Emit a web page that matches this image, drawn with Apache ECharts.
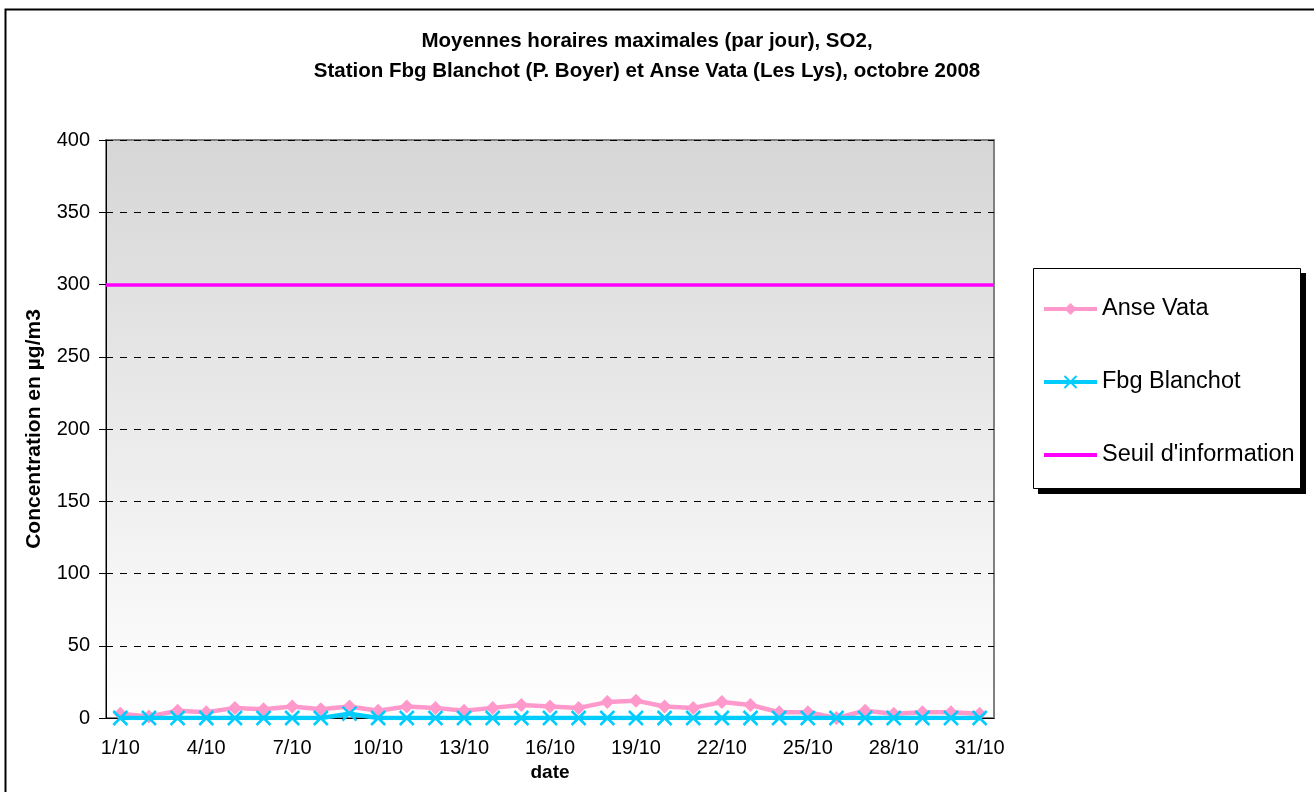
<!DOCTYPE html>
<html>
<head>
<meta charset="utf-8">
<script src="https://cdn.jsdelivr.net/npm/echarts@6/dist/echarts.min.js"></script>
<style>
  html, body { margin: 0; padding: 0; background: #fff; }
  #chart { width: 1314px; height: 792px; }
</style>
</head>
<body>
<div id="chart"></div>
<script>
// jours d'octobre 2008
const days = [];
for (let d = 1; d <= 31; d++) days.push(d + '/10');

// maxima horaires par jour (µg/m3)
const anseVata = [3, 1, 5, 4, 7, 6, 8, 6, 8, 5, 8, 7, 5, 7, 9, 8, 7, 11, 12, 8, 7, 11, 9, 4, 4, 0, 5, 3, 4, 4, 3];
const fbgBlanchot = [0, 0, 0, 0, 0, 0, 0, 0, 3, 0, 0, 0, 0, 0, 0, 0, 0, 0, 0, 0, 0, 0, 0, 0, 0, 0, 0, 0, 0, 0, 0];
const seuilInfo = 300;

const yMin = 0, yMax = 400, yStep = 50;

const chart = echarts.init(document.getElementById('chart'));

const crossPath = 'path://M0,0L10,10M10,0L0,10';

const option = {
  animation: false,
  backgroundColor: '#fff',
  textStyle: { fontFamily: 'Liberation Sans, Arial, sans-serif' },
  graphic: [
    {
      // cadre extérieur
      type: 'rect',
      left: 3, top: 7,
      shape: { width: 1400, height: 900 },
      style: { fill: 'none', stroke: '#000', lineWidth: 2 },
      silent: true
    },
    {
      // ombre de la légende
      type: 'rect',
      left: 1038, top: 273,
      shape: { width: 268, height: 221 },
      style: { fill: '#000' },
      silent: true, z: 1
    },
    {
      // cadre de la légende
      type: 'rect',
      left: 1033, top: 268,
      shape: { width: 267, height: 220 },
      style: { fill: '#fff', stroke: '#000', lineWidth: 1 },
      silent: true, z: 2
    }
  ],
  title: {
    text: 'Moyennes horaires maximales (par jour), SO2,\nStation Fbg Blanchot (P. Boyer) et Anse Vata (Les Lys), octobre 2008',
    left: 642,
    textAlign: 'center',
    top: 21,
    textStyle: {
      fontSize: 20.5, fontWeight: 'bold', color: '#000',
      lineHeight: 30, fontFamily: 'Liberation Sans, Arial, sans-serif'
    }
  },
  legend: {
    orient: 'vertical',
    left: 1033, top: 268,
    padding: [27, 8, 25, 9],
    itemGap: 45,
    itemWidth: 53, itemHeight: 15,
    z: 5,
    lineStyle: { width: 4 },
    textStyle: { fontSize: 23.5, color: '#000', lineHeight: 28 },
    data: [
      'Anse Vata',
      'Fbg Blanchot',
      { name: "Seuil d'information", itemStyle: { opacity: 0 } }
    ]
  },
  grid: {
    left: 106, right: 320, top: 140, bottom: 74,
    show: true,
    borderColor: '#808080', borderWidth: 2,
    backgroundColor: new echarts.graphic.LinearGradient(0, 0, 0, 1, [
      { offset: 0, color: '#d6d6d6' },
      { offset: 1, color: '#ffffff' }
    ])
  },
  xAxis: {
    type: 'category',
    data: days,
    boundaryGap: true,
    name: 'date',
    nameLocation: 'middle',
    nameGap: 39,
    nameTextStyle: { fontSize: 19, fontWeight: 'bold', color: '#000' },
    axisLine: { lineStyle: { color: '#000', width: 1 } },
    axisTick: { interval: 2, length: 6, lineStyle: { color: '#000' } },
    axisLabel: { interval: 2, fontSize: 20, color: '#000', margin: 20 },
    splitLine: { show: false }
  },
  yAxis: {
    type: 'value',
    min: yMin, max: yMax, interval: yStep,
    name: 'Concentration en µg/m3',
    nameLocation: 'middle',
    nameGap: 61,
    nameTextStyle: { fontSize: 21, fontWeight: 'bold', color: '#000' },
    axisLine: { show: true, lineStyle: { color: '#000', width: 1 } },
    axisTick: { show: true, length: 7, lineStyle: { color: '#000' } },
    axisLabel: { fontSize: 20, color: '#000', margin: 16 },
    splitLine: { lineStyle: { color: '#000', type: [7, 7], width: 1 } }
  },
  series: [
    {
      name: 'Anse Vata',
      type: 'line',
      data: anseVata,
      color: '#ff99cc',
      symbol: 'diamond',
      symbolSize: 14,
      lineStyle: { color: '#ff99cc', width: 4.5 },
      itemStyle: { color: '#ff99cc' },
      z: 3
    },
    {
      name: 'Fbg Blanchot',
      type: 'line',
      data: fbgBlanchot,
      color: '#00ccff',
      symbol: crossPath,
      symbolSize: 14,
      lineStyle: { color: '#00ccff', width: 4.5 },
      itemStyle: { color: '#00ccff', borderColor: '#00ccff', borderWidth: 2.5 },
      z: 4
    },
    {
      name: "Seuil d'information",
      type: 'line',
      data: [],
      color: '#ff00ff',
      symbol: 'none',
      lineStyle: { color: '#ff00ff', width: 3.5 },
      markLine: {
        silent: true,
        symbol: ['none', 'none'],
        label: { show: false },
        lineStyle: { color: '#ff00ff', width: 3.5, type: 'solid' },
        data: [{ yAxis: seuilInfo }]
      },
      z: 2
    }
  ]
};

chart.setOption(option);
</script>
</body>
</html>
